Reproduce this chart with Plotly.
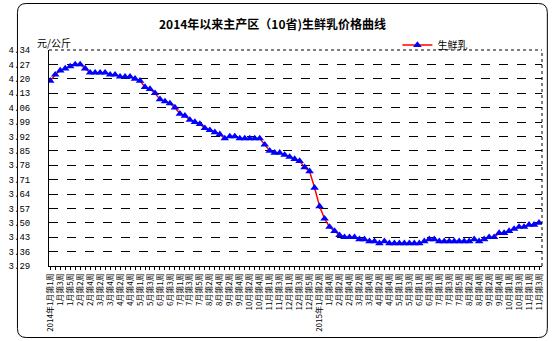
import plotly.graph_objects as go

# ---- data -------------------------------------------------------------
# weeks per month, 2014 (Jan..Dec) and 2015 (Jan..Nov, up to week 3)
weeks_2014 = [5, 4, 4, 5, 4, 4, 5, 4, 4, 5, 4, 5]
weeks_2015 = [4, 4, 4, 5, 4, 4, 5, 4, 5, 4, 3]

# raw milk price, yuan/kg, one value per week
price = [
    4.19, 4.22, 4.24, 4.25, 4.26, 4.27, 4.27, 4.25, 4.23, 4.23,
    4.23, 4.23, 4.22, 4.22, 4.21, 4.21, 4.21, 4.20, 4.19, 4.16,
    4.15, 4.13, 4.10, 4.09, 4.08, 4.06, 4.03, 4.02, 4.00, 3.99,
    3.98, 3.96, 3.95, 3.94, 3.93, 3.91, 3.92, 3.92, 3.91, 3.91,
    3.91, 3.91, 3.91, 3.88, 3.85, 3.84, 3.84, 3.83, 3.82, 3.81,
    3.80, 3.77, 3.75, 3.67, 3.58, 3.52, 3.48, 3.46, 3.44, 3.43,
    3.43, 3.43, 3.42, 3.42, 3.41, 3.41, 3.40, 3.41, 3.40, 3.40,
    3.40, 3.40, 3.40, 3.40, 3.40, 3.41, 3.42, 3.42, 3.41, 3.41,
    3.41, 3.41, 3.41, 3.41, 3.41, 3.42, 3.41, 3.42, 3.43, 3.43,
    3.45, 3.45, 3.46, 3.47, 3.48, 3.48, 3.49, 3.49, 3.50,
]

y_ticks = [3.29, 3.36, 3.43, 3.50, 3.57, 3.64, 3.71, 3.78, 3.85,
           3.92, 3.99, 4.06, 4.13, 4.20, 4.27, 4.34]

title_text = "2014年以来主产区（10省)生鲜乳价格曲线"
unit_text = "元/公斤"
series_name = "生鲜乳"

# week categories (unique keys) and their axis labels
weeks, week_labels = [], []
for year, counts in ((2014, weeks_2014), (2015, weeks_2015)):
    for month, n in enumerate(counts, start=1):
        for wk in range(1, n + 1):
            weeks.append(f"{year}年{month}月第{wk}周")
            prefix = f"{year}年" if (month == 1 and wk <= 2) else ""
            week_labels.append(f"{prefix}{month}月第{wk}周")

tick_text = [t if i % 2 == 0 else "" for i, t in enumerate(week_labels)]

# ---- layout geometry (pixels) ----------------------------------------
W, H = 553, 341
L, R, T, B = 36, 544, 50, 266
pw, ph = R - L, B - T


def px(x):
    return (x - L) / pw


def py(y):
    return (B - y) / ph


CJK = "Noto Sans CJK SC"

fig = go.Figure()
fig.add_trace(go.Scatter(
    x=weeks, y=price, name=series_name, mode="lines+markers",
    line=dict(color="#FF0000", width=1.5),
    marker=dict(symbol="triangle-up", color="#0000FF", size=7.5,
                line=dict(width=0)),
))

# rounded outer frame
x0, x1, y0, y1, r = 3.5, 549.5, 3.5, 337.5, 9
frame = (
    f"M {px(x0 + r)},{py(y0)} L {px(x1 - r)},{py(y0)} "
    f"Q {px(x1)},{py(y0)} {px(x1)},{py(y0 + r)} "
    f"L {px(x1)},{py(y1 - r)} Q {px(x1)},{py(y1)} {px(x1 - r)},{py(y1)} "
    f"L {px(x0 + r)},{py(y1)} Q {px(x0)},{py(y1)} {px(x0)},{py(y1 - r)} "
    f"L {px(x0)},{py(y0 + r)} Q {px(x0)},{py(y0)} {px(x0 + r)},{py(y0)} Z"
)
shapes = [
    dict(type="path", path=frame, xref="paper", yref="paper",
         line=dict(color="black", width=1), layer="below"),
    # dotted top and right border of the plot area
    dict(type="line", xref="paper", yref="paper", x0=0, x1=1, y0=1, y1=1,
         line=dict(color="black", width=1, dash="dot")),
    dict(type="line", xref="paper", yref="paper", x0=1, x1=1, y0=0, y1=1,
         line=dict(color="black", width=1, dash="dot")),
]

annotations = [
    dict(text=f"<b>{title_text}</b>", xref="paper", yref="paper",
         x=px(266), y=py(23), xanchor="center", yanchor="middle",
         showarrow=False, font=dict(family=CJK, size=12, color="black")),
    dict(text=unit_text, xref="paper", yref="paper",
         x=px(22), y=py(43), xanchor="left", yanchor="middle",
         showarrow=False, font=dict(family=CJK, size=10, color="black")),
]

fig.update_layout(
    width=W, height=H,
    margin=dict(l=L, r=W - R, t=T, b=H - B, pad=0),
    paper_bgcolor="white", plot_bgcolor="white",
    shapes=shapes, annotations=annotations,
    showlegend=True,
    legend=dict(orientation="h", x=px(395), y=py(45), xanchor="left",
                yanchor="middle", bgcolor="rgba(0,0,0,0)",
                font=dict(family=CJK, size=10, color="black"),
                itemwidth=30),
    xaxis=dict(
        type="category", range=[-0.25, 98.6],
        tickmode="array", tickvals=weeks, ticktext=tick_text,
        tickangle=-90, ticks="outside", ticklen=3, tickcolor="black",
        showline=True, linecolor="black", linewidth=1,
        showgrid=False, zeroline=False,
        tickfont=dict(family=CJK, size=8, color="black"),
    ),
    yaxis=dict(
        range=[3.29, 4.34], tickmode="array", tickvals=y_ticks,
        ticktext=[f"{v:.2f}" for v in y_ticks],
        showline=True, linecolor="black", linewidth=1,
        showgrid=True, gridcolor="black", gridwidth=1, griddash="dash",
        zeroline=False, ticks="", ticklabelstandoff=16,
        tickfont=dict(family="Liberation Mono", size=9, color="black"),
    ),
)

fig.write_html("out.html")
